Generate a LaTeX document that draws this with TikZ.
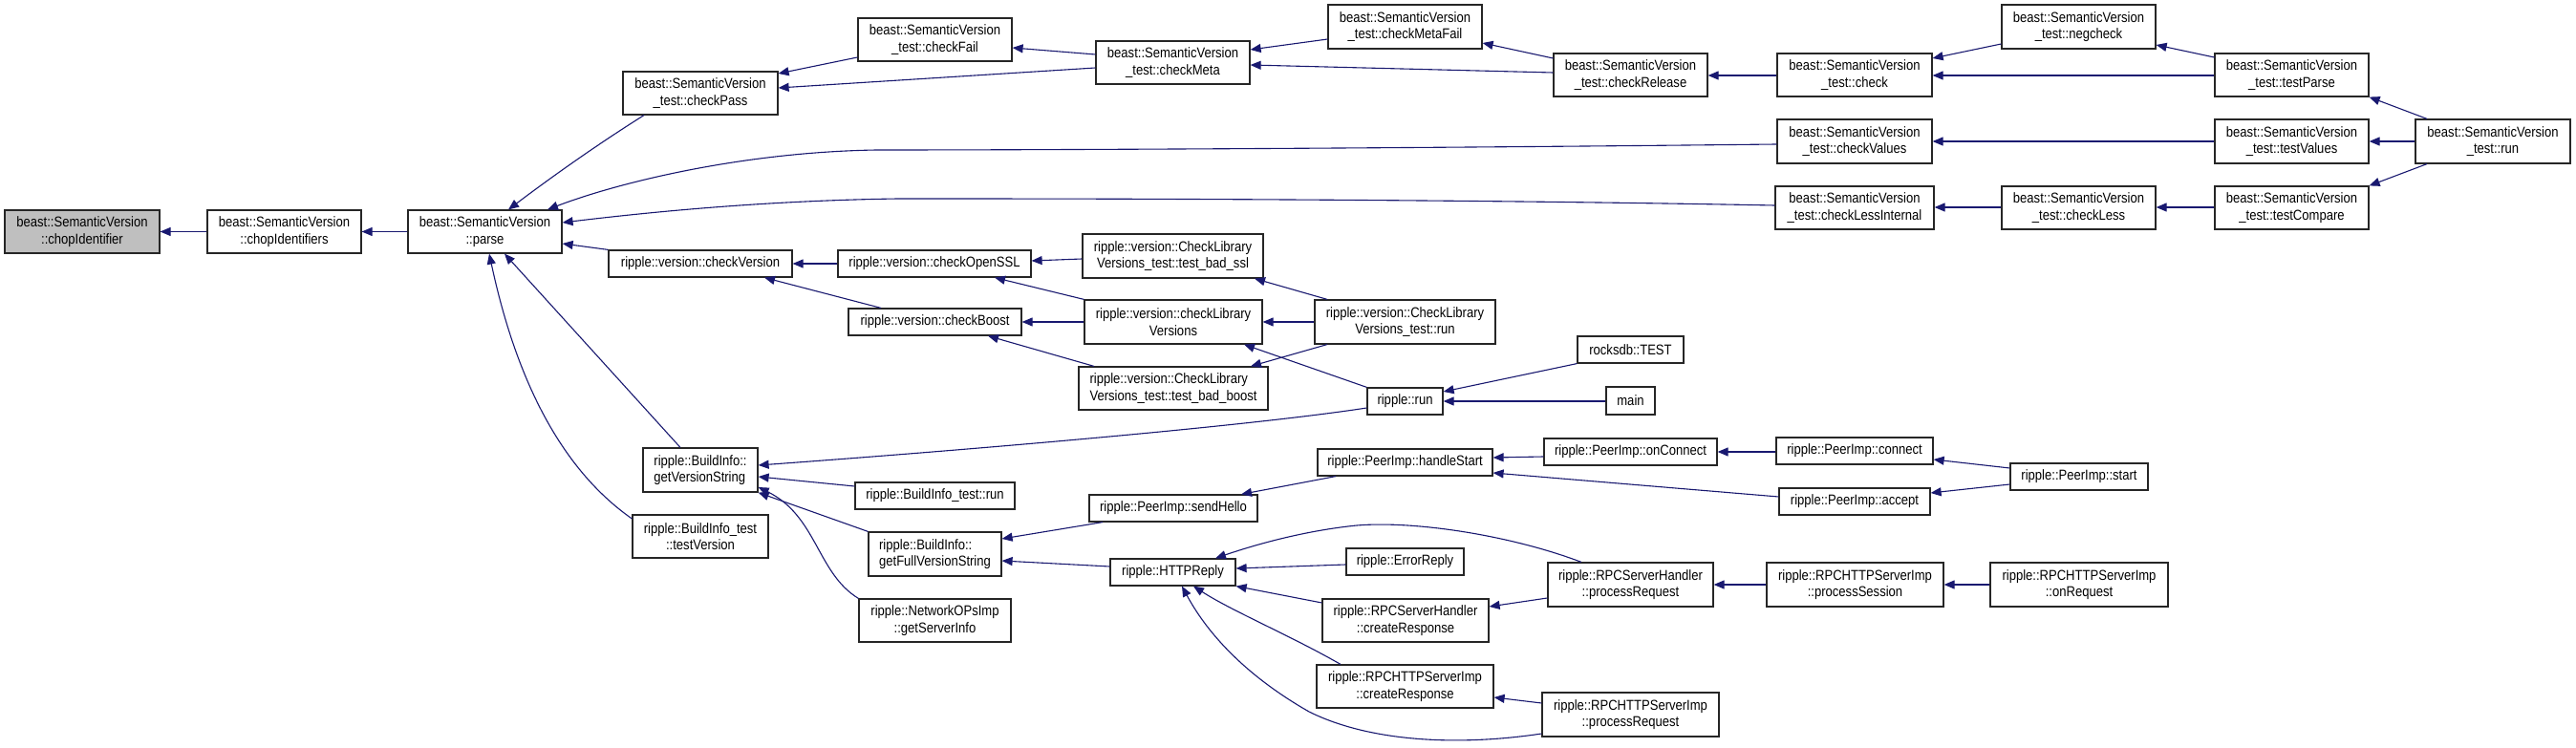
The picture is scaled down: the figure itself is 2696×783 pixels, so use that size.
\documentclass[tikz,border=0pt]{standalone}
\usepackage{fontspec}
\usetikzlibrary{arrows.meta}
\newfontfamily\doxfont[FakeStretch=0.87]{Liberation Sans}
\definecolor{navy}{HTML}{191970}
\tikzset{
  box/.style={draw=black!85, line width=1.2pt, fill=white, inner sep=0pt, align=center,
    font=\doxfont\fontsize{15}{17.5}\selectfont},
  rootbox/.style={box, fill=black!25},
  edge/.style={draw=navy, line width=1.1pt, -{Triangle[length=11pt,width=9pt]}},
}
\newcommand{\dbox}[7][]{\node[box,#1,minimum width={(#5-#3)*1pt},minimum height={(#6-#4)*1pt}] (#2) at ({(#3+#5)/2},{(#4+#6)/2}) {#7};}
\begin{document}
\begin{tikzpicture}[x=1pt,y=-1pt]
\useasboundingbox[fill=white] (0,0) rectangle (2696,783);
% nodes
\dbox[rootbox]{chopIdentifier}{5}{220}{167}{265}{beast::SemanticVersion\\::chopIdentifier}
\dbox{chopIdentifiers}{217}{220}{378}{265}{beast::SemanticVersion\\::chopIdentifiers}
\dbox{parse}{427}{220}{588}{265}{beast::SemanticVersion\\::parse}
\dbox{checkPass}{652}{75}{814}{120}{beast::SemanticVersion\\\_test::checkPass}
\dbox{checkFail}{898}{19}{1059}{64}{beast::SemanticVersion\\\_test::checkFail}
\dbox{checkMeta}{1147}{43}{1308}{88}{beast::SemanticVersion\\\_test::checkMeta}
\dbox{checkMetaFail}{1390}{5}{1551}{51}{beast::SemanticVersion\\\_test::checkMetaFail}
\dbox{checkRelease}{1626}{56}{1787}{101}{beast::SemanticVersion\\\_test::checkRelease}
\dbox{check}{1860}{56}{2022}{101}{beast::SemanticVersion\\\_test::check}
\dbox{negcheck}{2095}{5}{2256}{51}{beast::SemanticVersion\\\_test::negcheck}
\dbox{testParse}{2318}{56}{2479}{101}{beast::SemanticVersion\\\_test::testParse}
\dbox{checkValues}{1860}{125}{2022}{171}{beast::SemanticVersion\\\_test::checkValues}
\dbox{testValues}{2318}{125}{2479}{171}{beast::SemanticVersion\\\_test::testValues}
\dbox{svrun}{2528}{125}{2690}{171}{beast::SemanticVersion\\\_test::run}
\dbox{checkLessInternal}{1858}{195}{2024}{240}{beast::SemanticVersion\\\_test::checkLessInternal}
\dbox{checkLess}{2095}{195}{2256}{240}{beast::SemanticVersion\\\_test::checkLess}
\dbox{testCompare}{2318}{195}{2479}{240}{beast::SemanticVersion\\\_test::testCompare}
\dbox{checkVersion}{637}{262}{829}{290}{ripple::version::checkVersion}
\dbox{checkOpenSSL}{877}{262}{1079}{290}{ripple::version::checkOpenSSL}
\dbox{testBadSsl}{1133}{245}{1322}{291}{ripple::version::CheckLibrary\\Versions\_test::test\_bad\_ssl}
\dbox{checkBoost}{888}{323}{1069}{351}{ripple::version::checkBoost}
\dbox{checkLibVersions}{1135}{314}{1321}{360}{ripple::version::checkLibrary\\Versions}
\dbox[align=left]{testBadBoost}{1129}{384}{1327}{429}{ripple::version::CheckLibrary\\Versions\_test::test\_bad\_boost}
\dbox{clvRun}{1376}{314}{1565}{360}{ripple::version::CheckLibrary\\Versions\_test::run}
\dbox{rrun}{1431}{406}{1510}{434}{ripple::run}
\dbox{rocksdb}{1651}{352}{1762}{380}{rocksdb::TEST}
\dbox{main}{1681}{405}{1732}{434}{main}
\dbox[align=left]{getVersionString}{673}{469}{793}{515}{ripple::BuildInfo::\\getVersionString}
\dbox{biRun}{895}{505}{1062}{533}{ripple::BuildInfo\_test::run}
\dbox{testVersion}{662}{539}{804}{584}{ripple::BuildInfo\_test\\::testVersion}
\dbox{sendHello}{1140}{518}{1316}{546}{ripple::PeerImp::sendHello}
\dbox[align=left]{getFullVersionString}{909}{557}{1048}{603}{ripple::BuildInfo::\\getFullVersionString}
\dbox{HTTPReply}{1162}{585}{1293}{613}{ripple::HTTPReply}
\dbox{getServerInfo}{899}{627}{1058}{672}{ripple::NetworkOPsImp\\::getServerInfo}
\dbox{handleStart}{1379}{470}{1562}{498}{ripple::PeerImp::handleStart}
\dbox{onConnect}{1616}{459}{1797}{487}{ripple::PeerImp::onConnect}
\dbox{connect}{1859}{458}{2023}{486}{ripple::PeerImp::connect}
\dbox{accept}{1862}{511}{2020}{539}{ripple::PeerImp::accept}
\dbox{start}{2104}{485}{2248}{513}{ripple::PeerImp::start}
\dbox{ErrorReply}{1409}{574}{1532}{602}{ripple::ErrorReply}
\dbox{rpcProcReq}{1620}{589}{1793}{635}{ripple::RPCServerHandler\\::processRequest}
\dbox{procSession}{1849}{589}{2034}{635}{ripple::RPCHTTPServerImp\\::processSession}
\dbox{onRequest}{2083}{589}{2269}{635}{ripple::RPCHTTPServerImp\\::onRequest}
\dbox{rpcCreateResp}{1384}{627}{1558}{672}{ripple::RPCServerHandler\\::createResponse}
\dbox{httpCreateResp}{1378}{696}{1563}{741}{ripple::RPCHTTPServerImp\\::createResponse}
\dbox{httpProcReq}{1614}{725}{1799}{771}{ripple::RPCHTTPServerImp\\::processRequest}
% edges (caller -> callee)
\draw[edge] (chopIdentifiers.west) -- (chopIdentifier.east);
\draw[edge] (parse.west) -- (chopIdentifiers.east);
\draw[edge] (checkPass.south -| 674,0) .. controls (640,142) and (595,172) .. (parse.north -| 532,0);
\draw[edge] (checkValues.west |- 0,151) .. controls (1500,155) and (1100,157) .. (918,157) .. controls (780,159) and (650,190) .. (parse.north -| 573,0);
\draw[edge] (checkLessInternal.west |- 0,215) .. controls (1500,208) and (1100,208) .. (940,208) .. controls (800,210) and (680,222) .. (parse.east |- 0,233);
\draw[edge] (checkVersion.north west) -- (parse.east |- 0,255);
\draw[edge] (getVersionString.north -| 712,0) -- (parse.south -| 528,0);
\draw[edge] (testVersion.west |- 0,543) .. controls (600,500) and (545,420) .. (parse.south -| 512,0);
\draw[edge] (checkFail.west |- 0,60) -- (checkPass.east |- 0,77);
\draw[edge] (checkMeta.west |- 0,71) -- (checkPass.east |- 0,92);
\draw[edge] (checkMeta.west |- 0,57) -- (checkFail.east |- 0,50);
\draw[edge] (checkMetaFail.west |- 0,41) -- (checkMeta.east |- 0,52);
\draw[edge] (checkRelease.west |- 0,76) -- (checkMeta.east |- 0,68);
\draw[edge] (checkRelease.west |- 0,61) -- (checkMetaFail.east |- 0,45);
\draw[edge] (check.west |- 0,79) -- (checkRelease.east |- 0,79);
\draw[edge] (negcheck.west |- 0,46) -- (check.east |- 0,61);
\draw[edge] (testParse.west |- 0,79) -- (check.east |- 0,79);
\draw[edge] (testParse.west |- 0,60) -- (negcheck.east |- 0,47);
\draw[edge] (svrun.north -| 2540,0) -- (testParse.south east);
\draw[edge] (svrun.west |- 0,148) -- (testValues.east |- 0,148);
\draw[edge] (svrun.south -| 2540,0) -- (testCompare.north east);
\draw[edge] (testValues.west |- 0,148) -- (checkValues.east |- 0,148);
\draw[edge] (testCompare.west |- 0,217) -- (checkLess.east |- 0,217);
\draw[edge] (checkLess.west |- 0,217) -- (checkLessInternal.east |- 0,217);
\draw[edge] (checkOpenSSL.west) -- (checkVersion.east);
\draw[edge] (checkBoost.north -| 922,0) -- (checkVersion.south -| 800,0);
\draw[edge] (testBadSsl.west |- 0,271) -- (checkOpenSSL.east |- 0,273);
\draw[edge] (checkLibVersions.north west) -- (checkOpenSSL.south -| 1041,0);
\draw[edge] (checkLibVersions.west |- 0,337) -- (checkBoost.east |- 0,337);
\draw[edge] (testBadBoost.north -| 1145,0) -- (checkBoost.south -| 1034,0);
\draw[edge] (clvRun.north -| 1389,0) -- (testBadSsl.south -| 1313,0);
\draw[edge] (clvRun.west |- 0,337) -- (checkLibVersions.east |- 0,337);
\draw[edge] (clvRun.south -| 1389,0) -- (testBadBoost.north -| 1309,0);
\draw[edge] (rrun.north west) -- (checkLibVersions.south -| 1302,0);
\draw[edge] (rrun.west |- 0,427) .. controls (1300,447) and (1000,472) .. (getVersionString.east |- 0,487);
\draw[edge] (rocksdb.south west) -- (rrun.east |- 0,410);
\draw[edge] (main.west |- 0,420) -- (rrun.east |- 0,420);
\draw[edge] (biRun.west |- 0,509) -- (getVersionString.east |- 0,499);
\draw[edge] (getFullVersionString.north west) -- (getVersionString.south east);
\draw[edge] (getServerInfo.north west) .. controls (855,600) and (855,540) .. (getVersionString.east |- 0,510);
\draw[edge] (sendHello.south -| 1154,0) -- (getFullVersionString.east |- 0,564);
\draw[edge] (HTTPReply.west |- 0,593) -- (getFullVersionString.east |- 0,587);
\draw[edge] (handleStart.south -| 1398,0) -- (sendHello.north -| 1299,0);
\draw[edge] (onConnect.west |- 0,478) -- (handleStart.east |- 0,479);
\draw[edge] (accept.west |- 0,520) -- (handleStart.east |- 0,495);
\draw[edge] (connect.west |- 0,473) -- (onConnect.east |- 0,473);
\draw[edge] (start.west |- 0,490) -- (connect.east |- 0,481);
\draw[edge] (start.west |- 0,507) -- (accept.east |- 0,516);
\draw[edge] (rpcProcReq.north -| 1655,0) .. controls (1580,560) and (1480,545) .. (1420,550) .. controls (1370,555) and (1320,568) .. (HTTPReply.north -| 1272,0);
\draw[edge] (ErrorReply.west |- 0,591) -- (HTTPReply.east |- 0,595);
\draw[edge] (rpcCreateResp.west |- 0,631) -- (HTTPReply.south east);
\draw[edge] (httpCreateResp.north -| 1403,0) .. controls (1350,665) and (1290,640) .. (HTTPReply.south -| 1249,0);
\draw[edge] (httpProcReq.west |- 0,768) .. controls (1520,782) and (1430,775) .. (1370,745) .. controls (1300,705) and (1262,660) .. (HTTPReply.south -| 1237,0);
\draw[edge] (procSession.west |- 0,612) -- (rpcProcReq.east |- 0,612);
\draw[edge] (rpcProcReq.west |- 0,626) -- (rpcCreateResp.east |- 0,635);
\draw[edge] (httpProcReq.west |- 0,736) -- (httpCreateResp.east |- 0,730);
\draw[edge] (onRequest.west |- 0,612) -- (procSession.east |- 0,612);
\end{tikzpicture}
\end{document}
